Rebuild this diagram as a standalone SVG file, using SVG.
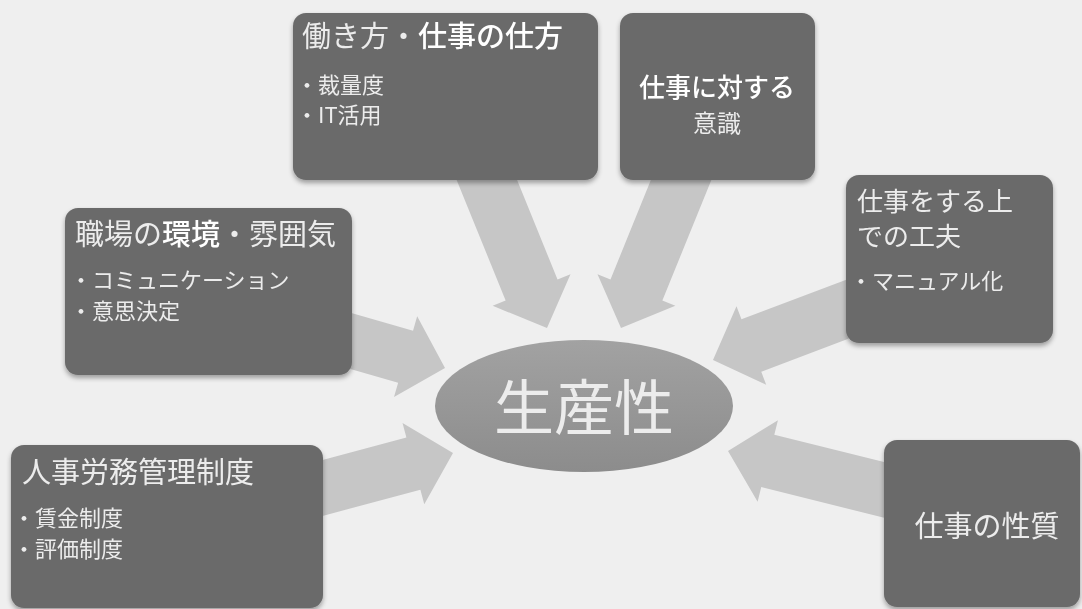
<svg xmlns="http://www.w3.org/2000/svg" width="1082" height="609" viewBox="0 0 1082 609">
<defs>
<style>
.box{fill:#6a6a6a;}
.arrow{fill:#c6c6c6;}
.t{font-family:"Noto Sans CJK JP","Liberation Serif",sans-serif;fill:#ececec;}
.ti{font-size:29px;}
.b{font-size:22px;}
.bold{font-weight:500;fill:#ffffff;}
</style>
<filter id="sh" x="-10%" y="-10%" width="120%" height="125%">
<feGaussianBlur in="SourceAlpha" stdDeviation="2.5"/>
<feOffset dx="0" dy="3" result="o"/>
<feComponentTransfer><feFuncA type="linear" slope="0.35"/></feComponentTransfer>
<feMerge><feMergeNode/><feMergeNode in="SourceGraphic"/></feMerge>
</filter>
<linearGradient id="eg" x1="0" y1="0" x2="0" y2="1">
<stop offset="0" stop-color="#a2a2a2"/>
<stop offset="1" stop-color="#8c8c8c"/>
</linearGradient>
</defs>
<rect x="0" y="0" width="1082" height="609" fill="#efefef"/>

<g id="connectors">
<path class="arrow" transform="translate(547,328) rotate(67.9)" d="M0,0 L-41,-42 L-41,-28 L-175,-28 L-175,28 L-41,28 L-41,42 Z"/>
<path class="arrow" transform="translate(621,328) rotate(112.1)" d="M0,0 L-41,-42 L-41,-28 L-175,-28 L-175,28 L-41,28 L-41,42 Z"/>
<path class="arrow" transform="translate(445,368) rotate(16)" d="M0,0 L-41,-42 L-41,-27 L-125,-27 L-125,27 L-41,27 L-41,42 Z"/>
<path class="arrow" transform="translate(713,360) rotate(159.3)" d="M0,0 L-41,-42 L-41,-28 L-170,-28 L-170,28 L-41,28 L-41,42 Z"/>
<path class="arrow" transform="translate(453,453) rotate(-15)" d="M0,0 L-41,-42 L-41,-27 L-150,-27 L-150,27 L-41,27 L-41,42 Z"/>
<path class="arrow" transform="translate(728,451) rotate(194)" d="M0,0 L-41,-42 L-41,-27 L-180,-27 L-180,27 L-41,27 L-41,42 Z"/>
</g>

<g id="center">
<ellipse cx="584" cy="406" rx="149" ry="66" fill="url(#eg)"/>
<text class="t" x="584" y="430" font-size="60" text-anchor="middle" fill="#e8e8e8">生産性</text>
</g>

<g id="box-hatarakikata" filter="url(#sh)">
<rect class="box" x="293" y="13" width="305" height="167" rx="13"/>
<text class="t ti" x="302" y="47">働き方・<tspan class="bold">仕事の仕方</tspan></text>
<text class="t b" x="296" y="93">・裁量度</text>
<text class="t b" x="296" y="123">・IT活用</text>
</g>

<g id="box-ishiki" filter="url(#sh)">
<rect class="box" x="620" y="13" width="195" height="167" rx="13"/>
<text class="t bold" x="717" y="97" font-size="26" text-anchor="middle">仕事に対する</text>
<text class="t" x="717" y="132" font-size="24" text-anchor="middle">意識</text>
</g>

<g id="box-shokuba" filter="url(#sh)">
<rect class="box" x="65" y="208" width="287" height="167" rx="13"/>
<text class="t ti" x="75" y="245">職場の<tspan class="bold">環境</tspan>・雰囲気</text>
<text class="t b" x="70" y="288">・コミュニケーション</text>
<text class="t b" x="70" y="319">・意思決定</text>
</g>

<g id="box-kufu" filter="url(#sh)">
<rect class="box" x="846" y="175" width="207" height="168" rx="13"/>
<text class="t" x="857" y="211" font-size="26">仕事をする上</text>
<text class="t" x="857" y="246" font-size="26">での工夫</text>
<text class="t b" x="850" y="289">・マニュアル化</text>
</g>

<g id="box-jinji" filter="url(#sh)">
<rect class="box" x="11" y="445" width="312" height="163" rx="13"/>
<text class="t ti" x="22" y="483">人事労務管理制度</text>
<text class="t b" x="13" y="526">・賃金制度</text>
<text class="t b" x="13" y="557">・評価制度</text>
</g>

<g id="box-seishitsu" filter="url(#sh)">
<rect class="box" x="884" y="440" width="196" height="167" rx="13"/>
<text class="t ti" x="987" y="537" text-anchor="middle">仕事の性質</text>
</g>
</svg>
